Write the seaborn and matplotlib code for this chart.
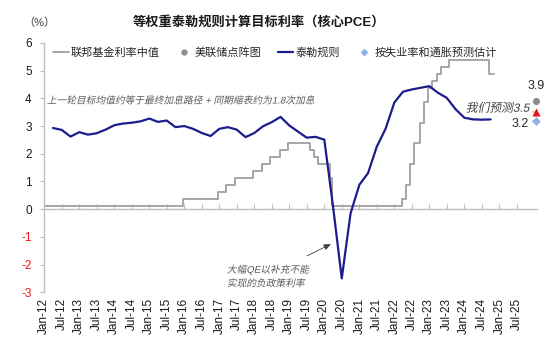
import matplotlib
matplotlib.use("Agg")
import matplotlib.pyplot as plt
import matplotlib.dates as mdates
from matplotlib.lines import Line2D
from matplotlib.patheffects import AbstractPathEffect
from matplotlib.transforms import Affine2D
import numpy as np
import pandas as pd
import seaborn as sns

# ---- data -------------------------------------------------------------
# Fed funds target range midpoint: change dates and the level from each date on
ff_dates = ["2012-01-01", "2015-12-16", "2016-12-14", "2017-03-15", "2017-06-14",
            "2017-12-13", "2018-03-21", "2018-06-13", "2018-09-26", "2018-12-19",
            "2019-08-01", "2019-09-19", "2019-10-31", "2020-03-04", "2020-03-16",
            "2022-03-17", "2022-05-05", "2022-06-16", "2022-07-28", "2022-09-22",
            "2022-11-03", "2022-12-15", "2023-02-02", "2023-03-23", "2023-05-04",
            "2023-07-27", "2024-09-19", "2024-11-10"]
ff_levels = [0.125, 0.375, 0.625, 0.875, 1.125,
             1.375, 1.625, 1.875, 2.125, 2.375,
             2.125, 1.875, 1.625, 1.125, 0.125,
             0.375, 0.875, 1.625, 2.375, 3.125,
             3.875, 4.375, 4.625, 4.875, 5.125,
             5.375, 4.875, 4.875]

# Equal-weight Taylor rule (core PCE), quarterly from 2012Q1
taylor_start = "2012Q1"
taylor_values = [2.93, 2.86, 2.62, 2.78, 2.69, 2.74, 2.87, 3.03, 3.09, 3.12,
                 3.17, 3.27, 3.15, 3.20, 2.96, 3.00, 2.90, 2.75, 2.64, 2.90,
                 2.96, 2.87, 2.60, 2.75, 2.99, 3.14, 3.33, 3.02, 2.80, 2.58,
                 2.61, 2.51, 0.10, -2.50, -0.15, 0.88, 1.30, 2.25, 2.90, 3.85,
                 4.24, 4.32, 4.38, 4.44, 4.20, 4.02, 3.61, 3.30, 3.24, 3.23,
                 3.24]

# End-2025 estimates
estimate_date = "2026-01-18"
dot_plot_value = 3.9
our_forecast_value = 3.5
model_estimate_value = 3.2

tick_labels = ["Jan-12", "Jul-12", "Jan-13", "Jul-13", "Jan-14", "Jul-14", "Jan-15",
               "Jul-15", "Jan-16", "Jul-16", "Jan-17", "Jul-17", "Jan-18", "Jul-18",
               "Jan-19", "Jul-19", "Jan-20", "Jul-20", "Jan-21", "Jul-21", "Jan-22",
               "Jul-22", "Jan-23", "Jul-23", "Jan-24", "Jul-24", "Jan-25", "Jul-25"]
y_ticks = [-3, -2, -1, 0, 1, 2, 3, 4, 5, 6]

series_names = ["联邦基金利率中值", "美联储点阵图", "泰勒规则", "按失业率和通胀预测估计"]
title = "等权重泰勒规则计算目标利率（核心PCE）"
unit_label = "（%）"
note_top = "上一轮目标均值约等于最终加息路径 + 同期缩表约为1.8次加息"
note_qe = "大幅QE以补充不能\n实现的负政策利率"
forecast_text = "我们预测"

# ---- style ------------------------------------------------------------
sns.set_theme(style="white")
plt.rcParams["font.family"] = ["Liberation Sans", "Noto Sans CJK SC", "DejaVu Sans"]
plt.rcParams["axes.unicode_minus"] = False

GRAY = "#a6a6a6"
NAVY = "#1c1c8c"
DOT = "#8c8c8c"
RED = "#e8141c"
BLUE = "#8db3e2"
AXIS = "#bfbfbf"
NOTE = "#595959"


class Slant(AbstractPathEffect):
    """Draw text with an oblique shear (the CJK fonts have no italic face)."""

    def __init__(self, deg=12):
        super().__init__()
        self._deg = deg

    def draw_path(self, renderer, gc, tpath, affine, rgbFace=None):
        renderer.draw_path(gc, tpath, Affine2D().skew_deg(self._deg, 0) + affine, rgbFace)


ff = pd.DataFrame({"date": pd.to_datetime(ff_dates), "rate": ff_levels})
taylor = pd.DataFrame({
    "date": pd.period_range(taylor_start, periods=len(taylor_values), freq="Q").to_timestamp(how="end"),
    "rate": taylor_values,
})
est_x = pd.to_datetime([estimate_date])
tick_dates = pd.to_datetime(tick_labels, format="%b-%y")

fig = plt.figure(figsize=(5.5, 3.5), dpi=100)
ax = fig.add_axes([0.0805, 0.165, 0.8953, 0.7123])

sns.lineplot(data=ff, x="date", y="rate", ax=ax, color=GRAY, lw=1.4,
             drawstyle="steps-post", estimator=None, zorder=2)
sns.lineplot(data=taylor, x="date", y="rate", ax=ax, color=NAVY, lw=1.6,
             estimator=None, zorder=3)

sns.scatterplot(x=est_x, y=[dot_plot_value], ax=ax, marker="o", s=26, color=DOT,
                edgecolor=DOT, linewidth=0, clip_on=False, zorder=4)
sns.scatterplot(x=est_x, y=[our_forecast_value], ax=ax, marker="^", s=34, color=RED,
                edgecolor=RED, linewidth=0, clip_on=False, zorder=4)
sns.scatterplot(x=est_x, y=[model_estimate_value], ax=ax, marker="D", s=20, color=BLUE,
                edgecolor=BLUE, linewidth=0, clip_on=False, zorder=4)

# ---- axes -------------------------------------------------------------
ax.set_xlim(pd.Timestamp("2012-01-01"), pd.Timestamp("2026-01-25"))
ax.set_ylim(-3, 6)
ax.set_xlabel("")
ax.set_ylabel("")

for side in ("top", "right"):
    ax.spines[side].set_visible(False)
ax.spines["left"].set_color(AXIS)
ax.spines["left"].set_linewidth(1.0)
ax.spines["bottom"].set_position(("data", 0))
ax.spines["bottom"].set_color(AXIS)
ax.spines["bottom"].set_linewidth(1.0)

ax.set_xticks(tick_dates)
ax.tick_params(axis="x", direction="in", length=3.5, width=0.8, color=AXIS,
               labelbottom=False, bottom=True)
ax.set_yticks(y_ticks)
ax.set_yticklabels([str(v) for v in y_ticks])
ax.tick_params(axis="y", direction="out", length=3, width=0.8, color=AXIS,
               labelsize=8.5, pad=6, left=True)
for lab, v in zip(ax.get_yticklabels(), y_ticks):
    lab.set_color(RED if v < 0 else "#1a1a1a")

sec = ax.secondary_xaxis("bottom")
sec.set_xticks(mdates.date2num(tick_dates), tick_labels, rotation=90)
sec.tick_params(length=0, labelsize=8.5, pad=4, labelcolor="#1a1a1a")
sec.spines["bottom"].set_visible(False)

# ---- annotations ------------------------------------------------------
ax.text(pd.Timestamp("2012-01-28"), 3.92, note_top, fontsize=7, color=NOTE,
        va="center", ha="left", path_effects=[Slant()])

ax.text(pd.Timestamp("2017-03-20"), -2.43, note_qe, fontsize=7, color=NOTE,
        ha="left", va="center", linespacing=1.45, path_effects=[Slant()])
ax.annotate("", xy=(pd.Timestamp("2020-03-10"), -1.26),
            xytext=(pd.Timestamp("2019-07-03"), -1.69),
            arrowprops=dict(arrowstyle="-|>,head_length=0.35,head_width=0.15",
                            color="#404040", lw=0.6, shrinkA=0, shrinkB=0))

ax.annotate(f"{dot_plot_value}", xy=(est_x[0], dot_plot_value), xytext=(0, 11),
            textcoords="offset points", ha="center", va="center", fontsize=9,
            color="#262626", annotation_clip=False,
            arrowprops=dict(arrowstyle="-", color=DOT, lw=0.6, shrinkA=3, shrinkB=2.5))
ax.annotate(f"{forecast_text}{our_forecast_value}", xy=(est_x[0], our_forecast_value),
            xytext=(-5, 2.5), textcoords="offset points", ha="right", va="center",
            fontsize=8.5, color="#404040", annotation_clip=False,
            path_effects=[Slant()],
            arrowprops=dict(arrowstyle="-", color=DOT, lw=0.6, shrinkA=0, shrinkB=3))
ax.annotate(f"{model_estimate_value}", xy=(est_x[0], model_estimate_value),
            xytext=(-5, -2.5), textcoords="offset points", ha="right", va="center",
            fontsize=9, color="#262626", annotation_clip=False,
            arrowprops=dict(arrowstyle="-", color=DOT, lw=0.6, shrinkA=0, shrinkB=3))

# ---- title, unit, legend ----------------------------------------------
fig.text(0.471, 0.937, title, ha="center", va="center", fontsize=9.5,
         fontweight="bold", color="#1a1a1a")
fig.text(0.072, 0.934, unit_label, ha="center", va="center", fontsize=8, color="#404040")

handles = [
    Line2D([], [], color=GRAY, lw=1.4),
    Line2D([], [], color=DOT, marker="o", ls="none", markersize=3.5),
    Line2D([], [], color=NAVY, lw=1.6),
    Line2D([], [], color=BLUE, marker="D", ls="none", markersize=3),
]
fig.legend(handles, series_names, loc="center", bbox_to_anchor=(0.5, 0.851),
           ncol=4, frameon=False, fontsize=8, handlelength=1.4, handletextpad=0.2,
           columnspacing=1.5, labelcolor="#262626")

fig.savefig("out.png", dpi=100)
